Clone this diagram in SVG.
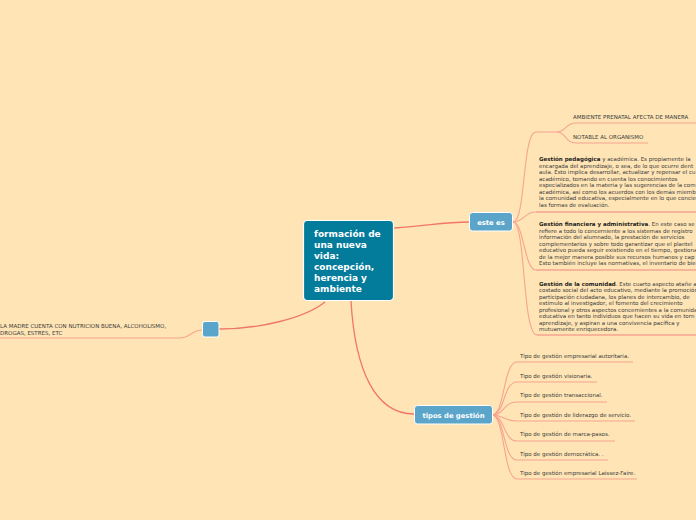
<svg xmlns="http://www.w3.org/2000/svg" width="696" height="520" viewBox="0 0 696 520">
<style>
.main{fill:none;stroke:#F0766A;stroke-width:1.3}
.br{fill:none;stroke:#F6A48E;stroke-width:1.1}
.ul{fill:none;stroke:#F6A48E;stroke-width:1.4}
.t{font-family:"DejaVu Sans",Verdana,sans-serif;font-size:5.5px;fill:#3a3a3a}
.b{font-weight:bold;fill:#222}
.ct{font-family:"DejaVu Sans",Verdana,sans-serif;font-size:9px;font-weight:bold;fill:#fff}
.st{font-family:"DejaVu Sans",Verdana,sans-serif;font-size:6.8px;font-weight:bold;fill:#fff;text-anchor:middle}
.sub{fill:#5BA5CA;stroke:#fff;stroke-width:1}
</style>
<rect width="696" height="520" fill="#FFE5B6"/>
<g id="connectors">
<path class="main" d="M394,228 C430,226 440,222 470,222"/>
<path class="main" d="M351,301 C355,370 375,414 414,414"/>
<path class="main" d="M325,302 C305,318 260,329 219,329"/>
<path class="br" d="M202,330 C192,330 190,338 180,338 L0,338"/>
<path class="br" d="M513,222 C526,222 522,132 536,132 L557,132"/>
<path class="br" d="M557,132 C566,132 565,123 576,123 L696,123"/>
<path class="br" d="M557,132 C566,132 565,143 576,143 L648,143"/>
<path class="br" d="M513,222 C524,222 524,212 536,212"/>
<path class="br" d="M513,222 C524,222 524,270 536,270"/>
<path class="br" d="M513,222 C526,222 522,335 537,335"/>
<path class="ul" d="M536,212 L696,212 M536,270 L696,270 M537,335 L696,335"/>
<path class="br" d="M492,415 C505,415 503,362 517,362 L633,362"/>
<path class="br" d="M492,415 C505,415 503,382 517,382 L597,382"/>
<path class="br" d="M492,415 C505,415 503,402 517,402 L607,402"/>
<path class="br" d="M492,415 C505,415 503,421 517,421 L635,421"/>
<path class="br" d="M492,415 C505,415 503,441 517,441 L615,441"/>
<path class="br" d="M492,415 C505,415 503,460 517,460 L608,460"/>
<path class="br" d="M492,415 C505,415 503,479 517,479 L637,479"/>
</g>
<g id="central">
<rect x="303.5" y="220.5" width="90" height="80" rx="4" fill="#037C9C" stroke="#fff" stroke-width="1.2"/>
<text class="ct" x="314" y="237">formación de</text>
<text class="ct" x="314" y="248">una nueva</text>
<text class="ct" x="314" y="259">vida:</text>
<text class="ct" x="314" y="270">concepción,</text>
<text class="ct" x="314" y="281">herencia y</text>
<text class="ct" x="314" y="292">ambiente</text>
</g>
<g id="este-es">
<rect class="sub" x="469.5" y="212.5" width="43" height="18.5" rx="3"/>
<text class="st" x="491" y="224.5">este es</text>
</g>
<g id="tipos-de-gestion">
<rect class="sub" x="414.5" y="405.5" width="78" height="18.5" rx="3"/>
<text class="st" x="453.5" y="417.5">tipos de gestión</text>
</g>
<g id="blank-node">
<rect class="sub" x="202.5" y="321.5" width="16.5" height="15.5" rx="2.5"/>
</g>
<g id="madre">
<text class="t" x="0" y="328">LA MADRE CUENTA CON NUTRICION BUENA, ALCOHOLISMO,</text>
<text class="t" x="0" y="334.5">DROGAS, ESTRES, ETC</text>
</g>
<g id="ambiente">
<text class="t" x="573" y="119">AMBIENTE PRENATAL AFECTA DE MANERA</text>
</g>
<g id="notable">
<text class="t" x="573" y="139">NOTABLE AL ORGANISMO</text>
</g>
<g id="pedagogica">
<text class="t" x="539" y="161"><tspan class="b">Gestión pedagógica</tspan> y académica. Es propiamente la</text>
<text class="t" x="539" y="167.5">encargada del aprendizaje, o sea, de lo que ocurre dent</text>
<text class="t" x="539" y="174">aula. Esto implica desarrollar, actualizar y repensar el cu</text>
<text class="t" x="539" y="180.5">académico, tomando en cuenta los conocimientos</text>
<text class="t" x="539" y="187">especializados en la materia y las sugerencias de la com</text>
<text class="t" x="539" y="193.5">académica, así como los acuerdos con los demás miemb</text>
<text class="t" x="539" y="200">la comunidad educativa, especialmente en lo que concie</text>
<text class="t" x="539" y="206.5">las formas de evaluación.</text>
</g>
<g id="financiera">
<text class="t" x="539" y="226"><tspan class="b">Gestión financiera y administrativa</tspan>. En este caso se</text>
<text class="t" x="539" y="232.5">refiere a todo lo concerniente a los sistemas de registro</text>
<text class="t" x="539" y="239">información del alumnado, la prestación de servicios</text>
<text class="t" x="539" y="245.5">complementarios y sobre todo garantizar que el plantel</text>
<text class="t" x="539" y="252">educativo pueda seguir existiendo en el tiempo, gestiona</text>
<text class="t" x="539" y="258.5">de la mejor manera posible sus recursos humanos y cap</text>
<text class="t" x="539" y="265">Esto también incluye las normativas, el inventario de bie</text>
</g>
<g id="comunidad">
<text class="t" x="539" y="285.5"><tspan class="b">Gestión de la comunidad</tspan>. Este cuarto aspecto atañe a</text>
<text class="t" x="539" y="292">costado social del acto educativo, mediante la promoción</text>
<text class="t" x="539" y="298.5">participación ciudadana, los planes de intercambio, de</text>
<text class="t" x="539" y="305">estímulo al investigador, el fomento del crecimiento</text>
<text class="t" x="539" y="311.5">profesional y otros aspectos concernientes a la comunida</text>
<text class="t" x="539" y="318">educativa en tanto individuos que hacen su vida en torn</text>
<text class="t" x="539" y="324.5">aprendizaje, y aspiran a una convivencia pacífica y</text>
<text class="t" x="539" y="331">mutuamente enriquecedora.</text>
</g>
<g id="tipos-items">
<text class="t" x="520" y="357.5">Tipo de gestión empresarial autoritaria.</text>
<text class="t" x="520" y="377.5">Tipo de gestión visionaria.</text>
<text class="t" x="520" y="397">Tipo de gestión transaccional.</text>
<text class="t" x="520" y="416.5">Tipo de gestión de liderazgo de servicio.</text>
<text class="t" x="520" y="436">Tipo de gestión de marca-pasos.</text>
<text class="t" x="520" y="455.5">Tipo de gestión democrática. .</text>
<text class="t" x="520" y="475">Tipo de gestión empresarial Laissez-Faire.</text>
</g>
</svg>
